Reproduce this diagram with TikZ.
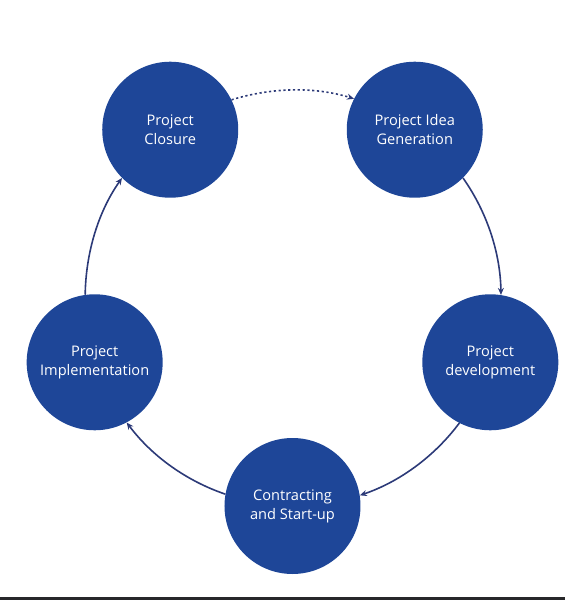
\documentclass[tikz,border=0pt]{standalone}
\usepackage{fontspec}
\setmainfont{Open Sans}
\usetikzlibrary{arrows.meta}

\definecolor{stageblue}{RGB}{30,70,152}
\definecolor{linknavy}{RGB}{44,58,120}
\definecolor{bandgray}{RGB}{40,40,42}

\tikzset{
    stage/.style={circle, fill=stageblue, draw=none, minimum size=136pt, inner sep=0pt,
        text=white, align=center, font=\fontsize{14.6}{19}\selectfont},
    link/.style={-{Stealth[length=7pt, width=6pt]}, line width=1.6pt, draw=linknavy,
        looseness=0.87}
}

\begin{document}
\begin{tikzpicture}[x=1pt, y=1pt]

    % Frame
    \useasboundingbox (-292.5,298) rectangle (272.5,-302);
    \fill[bandgray] (-292.5,-299) rectangle (272.5,-302);

    % Stages
    \node[stage] (closure) at (126:208) {Project\\Closure};
    \node[stage] (idea) at (54:208) {Project Idea\\Generation};
    \node[stage] (development) at (-18:208) {Project\\development};
    \node[stage] (contracting) at (-90:208) {Contracting\\and Start-up};
    \node[stage] (implementation) at (198:208) {Project\\Implementation};

    % Cycle, along the ring through the centres
    \draw[link, dash pattern=on 2.2pt off 2.6pt] (closure.26.6) to[out=17.2, in=162.8] (idea.153.4);
    \draw[link] (idea.-45.4) to[out=-54.8, in=90.8] (development.81.4);
    \draw[link] (development.-117.4) to[out=-126.8, in=18.8] (contracting.9.4);
    \draw[link] (contracting.170.6) to[out=161.2, in=-53.2] (implementation.-62.6);
    \draw[link] (implementation.98.6) to[out=89.2, in=234.8] (closure.225.4);

\end{tikzpicture}
\end{document}
